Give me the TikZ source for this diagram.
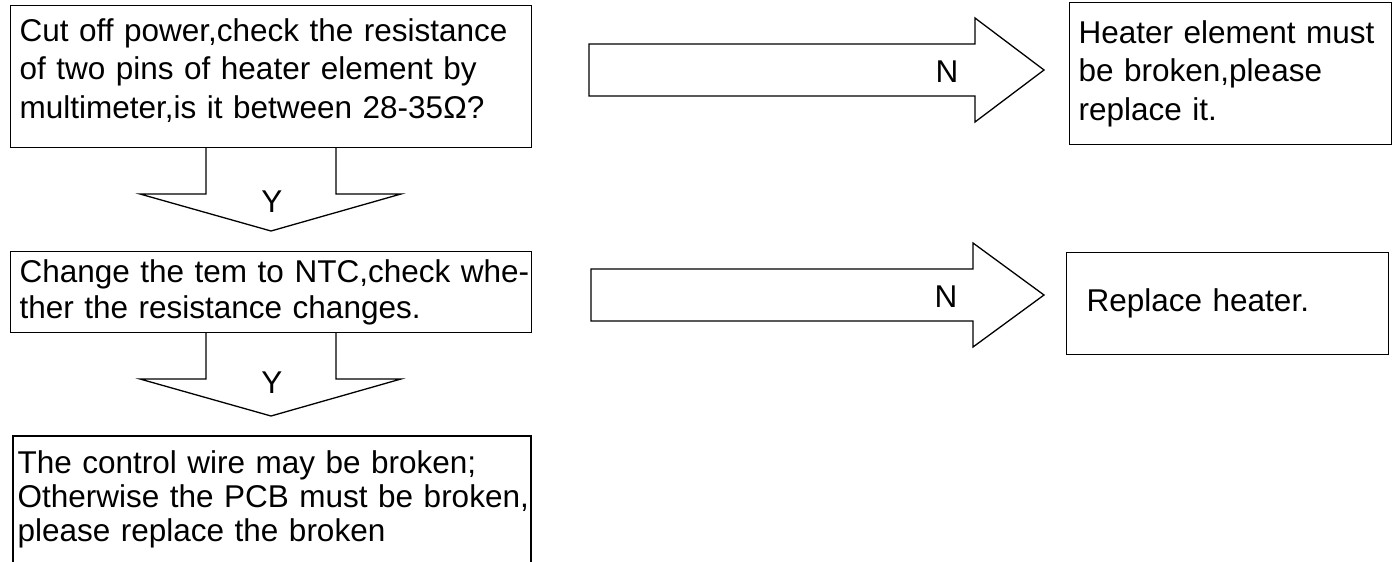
\documentclass[tikz,border=0pt]{standalone}
\usepackage{fontspec}
\setmainfont{Liberation Sans}
\tikzset{
  box/.style={draw, anchor=north west, align=left, inner xsep=9pt, inner ysep=0pt},
  textonly/.style={anchor=north west, align=left, inner xsep=4pt, inner ysep=14pt},
}
\begin{document}
\begin{tikzpicture}[x=1pt,y=-1pt,line width=1.3pt,font=\fontsize{31.5}{38.5}\selectfont]
    \useasboundingbox (0,0) rectangle (1393,562);
    % left column
    \node[box, text width=503pt, minimum height=142pt] (cutoff) at (10,5)
        {Cut off power,check the resistance\\of two pins of heater element by\\multimeter,is it between 28-35Ω?\rule[-17pt]{0pt}{0pt}};
    \node[box, text width=503pt, minimum height=81pt, font=\fontsize{31.5}{36}\selectfont] (ntc) at (10,251)
        {\mbox{Change the tem to NTC,check whe-}\\ther the resistance changes.};
    \draw (13,562) -- (13,436) -- (531,436) -- (531,562);
    \node[textonly, text width=515pt, font=\fontsize{31.5}{34}\selectfont] (wire) at (13,436)
        {The control wire may be broken;\\Otherwise the PCB must be broken,\\please replace the broken};
    % right column
    \node[box, text width=304pt, minimum height=142pt] (broken) at (1069,2)
        {Heater element must\\be broken,please\\replace it.};
    \node[box, text width=282pt, minimum height=102pt, inner xsep=20pt] (replace) at (1066,252)
        {Replace heater.};
    % Y arrows
    \draw (206,147) -- (206,194) -- (140,194) -- (271,231) -- (401,194) -- (336,194) -- (336,147);
    \node (yes1) at (272,202) {Y};
    \draw (206,332) -- (206,379) -- (140,379) -- (271,416) -- (401,379) -- (336,379) -- (336,332);
    \node (yes2) at (272,383) {Y};
    % N arrows
    \draw (589,44) -- (975,44) -- (975,18) -- (1044,70) -- (975,122) -- (975,96) -- (589,96) -- cycle;
    \node (no1) at (947,72) {N};
    \draw (591,269) -- (973,269) -- (973,243) -- (1044,295) -- (973,347) -- (973,321) -- (591,321) -- cycle;
    \node (no2) at (946,297) {N};
\end{tikzpicture}
\end{document}
